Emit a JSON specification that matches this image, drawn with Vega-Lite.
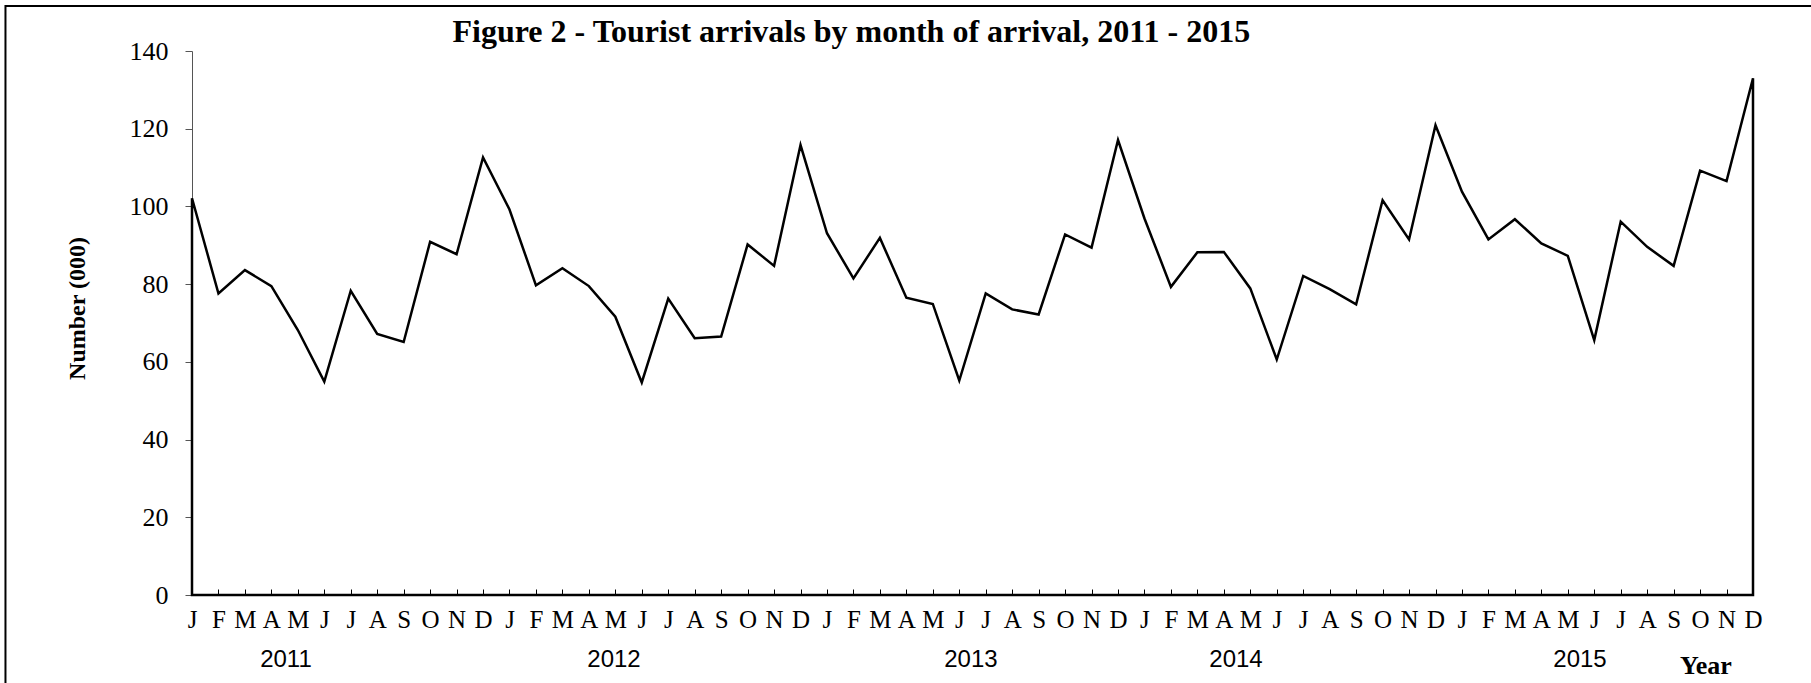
{
  "$schema": "https://vega.github.io/schema/vega-lite/v6.json",
  "width": 1561,
  "height": 544,
  "autosize": {"type": "none"},
  "padding": {"left": 192, "top": 51, "right": 58, "bottom": 88},
  "background": "white",
  "config": {"view": {"stroke": null}},
  "resolve": {"axis": {"x": "independent", "y": "independent"}},
  "datasets": {
    "arrivals": [
      {"i": 0, "year": 2011, "month": "Jan", "arrivals": 102.1},
      {"i": 1, "year": 2011, "month": "Feb", "arrivals": 77.6},
      {"i": 2, "year": 2011, "month": "Mar", "arrivals": 83.6},
      {"i": 3, "year": 2011, "month": "Apr", "arrivals": 79.5},
      {"i": 4, "year": 2011, "month": "May", "arrivals": 68.2},
      {"i": 5, "year": 2011, "month": "Jun", "arrivals": 54.9},
      {"i": 6, "year": 2011, "month": "Jul", "arrivals": 78.3},
      {"i": 7, "year": 2011, "month": "Aug", "arrivals": 67.2},
      {"i": 8, "year": 2011, "month": "Sep", "arrivals": 65.1},
      {"i": 9, "year": 2011, "month": "Oct", "arrivals": 90.9},
      {"i": 10, "year": 2011, "month": "Nov", "arrivals": 87.7},
      {"i": 11, "year": 2011, "month": "Dec", "arrivals": 112.6},
      {"i": 12, "year": 2012, "month": "Jan", "arrivals": 99.2},
      {"i": 13, "year": 2012, "month": "Feb", "arrivals": 79.7},
      {"i": 14, "year": 2012, "month": "Mar", "arrivals": 84.1},
      {"i": 15, "year": 2012, "month": "Apr", "arrivals": 79.5},
      {"i": 16, "year": 2012, "month": "May", "arrivals": 71.6},
      {"i": 17, "year": 2012, "month": "Jun", "arrivals": 54.7},
      {"i": 18, "year": 2012, "month": "Jul", "arrivals": 76.3},
      {"i": 19, "year": 2012, "month": "Aug", "arrivals": 66.1},
      {"i": 20, "year": 2012, "month": "Sep", "arrivals": 66.5},
      {"i": 21, "year": 2012, "month": "Oct", "arrivals": 90.2},
      {"i": 22, "year": 2012, "month": "Nov", "arrivals": 84.7},
      {"i": 23, "year": 2012, "month": "Dec", "arrivals": 115.8},
      {"i": 24, "year": 2013, "month": "Jan", "arrivals": 93.1},
      {"i": 25, "year": 2013, "month": "Feb", "arrivals": 81.5},
      {"i": 26, "year": 2013, "month": "Mar", "arrivals": 91.9},
      {"i": 27, "year": 2013, "month": "Apr", "arrivals": 76.5},
      {"i": 28, "year": 2013, "month": "May", "arrivals": 74.9},
      {"i": 29, "year": 2013, "month": "Jun", "arrivals": 55.2},
      {"i": 30, "year": 2013, "month": "Jul", "arrivals": 77.6},
      {"i": 31, "year": 2013, "month": "Aug", "arrivals": 73.5},
      {"i": 32, "year": 2013, "month": "Sep", "arrivals": 72.2},
      {"i": 33, "year": 2013, "month": "Oct", "arrivals": 92.8},
      {"i": 34, "year": 2013, "month": "Nov", "arrivals": 89.4},
      {"i": 35, "year": 2013, "month": "Dec", "arrivals": 117.1},
      {"i": 36, "year": 2014, "month": "Jan", "arrivals": 96.9},
      {"i": 37, "year": 2014, "month": "Feb", "arrivals": 79.3},
      {"i": 38, "year": 2014, "month": "Mar", "arrivals": 88.2},
      {"i": 39, "year": 2014, "month": "Apr", "arrivals": 88.3},
      {"i": 40, "year": 2014, "month": "May", "arrivals": 78.9},
      {"i": 41, "year": 2014, "month": "Jun", "arrivals": 60.6},
      {"i": 42, "year": 2014, "month": "Jul", "arrivals": 82.1},
      {"i": 43, "year": 2014, "month": "Aug", "arrivals": 78.7},
      {"i": 44, "year": 2014, "month": "Sep", "arrivals": 74.8},
      {"i": 45, "year": 2014, "month": "Oct", "arrivals": 101.6},
      {"i": 46, "year": 2014, "month": "Nov", "arrivals": 91.5},
      {"i": 47, "year": 2014, "month": "Dec", "arrivals": 120.9},
      {"i": 48, "year": 2015, "month": "Jan", "arrivals": 103.8},
      {"i": 49, "year": 2015, "month": "Feb", "arrivals": 91.5},
      {"i": 50, "year": 2015, "month": "Mar", "arrivals": 96.7},
      {"i": 51, "year": 2015, "month": "Apr", "arrivals": 90.5},
      {"i": 52, "year": 2015, "month": "May", "arrivals": 87.3},
      {"i": 53, "year": 2015, "month": "Jun", "arrivals": 65.6},
      {"i": 54, "year": 2015, "month": "Jul", "arrivals": 96.1},
      {"i": 55, "year": 2015, "month": "Aug", "arrivals": 89.6},
      {"i": 56, "year": 2015, "month": "Sep", "arrivals": 84.7},
      {"i": 57, "year": 2015, "month": "Oct", "arrivals": 109.2},
      {"i": 58, "year": 2015, "month": "Nov", "arrivals": 106.5},
      {"i": 59, "year": 2015, "month": "Dec", "arrivals": 133.0}
    ],
    "years": [
      {"label": "2011", "i": 3.55},
      {"label": "2012", "i": 15.95},
      {"label": "2013", "i": 29.44},
      {"label": "2014", "i": 39.46},
      {"label": "2015", "i": 52.46}
    ]
  },
  "layer": [
    {
      "data": {"name": "arrivals"},
      "mark": {"type": "area", "fill": "transparent", "stroke": "black", "strokeWidth": 2.5, "strokeJoin": "miter"},
      "encoding": {
        "x": {
          "field": "i",
          "type": "quantitative",
          "title": null,
          "scale": {"domain": [0, 59], "nice": false, "zero": false},
          "axis": {
            "values": [0,1,2,3,4,5,6,7,8,9,10,11,12,13,14,15,16,17,18,19,20,21,22,23,24,25,26,27,28,29,30,31,32,33,34,35,36,37,38,39,40,41,42,43,44,45,46,47,48,49,50,51,52,53,54,55,56,57,58,59],
            "labelExpr": "['J','F','M','A','M','J','J','A','S','O','N','D'][datum.value % 12]",
            "title": null,
            "grid": false,
            "tickSize": -6,
            "tickColor": "black",
            "tickWidth": 1,
            "domainColor": "black",
            "domainWidth": 1,
            "labelFont": "Liberation Serif",
            "labelFontSize": 25,
            "labelColor": "black",
            "labelPadding": 18,
            "labelOverlap": false,
            "labelFlush": false,
            "labelBound": false
          }
        },
        "y": {
          "field": "arrivals",
          "type": "quantitative",
          "title": "Number (000)",
          "scale": {"domain": [0, 140], "nice": false},
          "axis": {
            "values": [0, 20, 40, 60, 80, 100, 120, 140],
            "grid": false,
            "tickSize": 7,
            "tickColor": "#555555",
            "domainColor": "#555555",
            "labelFont": "Liberation Serif",
            "labelFontSize": 26,
            "labelColor": "black",
            "labelPadding": 17,
            "labelOverlap": false,
            "title": "Number (000)",
            "titleFont": "Liberation Serif",
            "titleFontSize": 24,
            "titleFontWeight": "bold",
            "titleColor": "black",
            "titleX": -115,
            "titleY": 257,
            "titleBaseline": "middle",
            "titleAngle": -90
          }
        }
      }
    },
    {
      "data": {"name": "years"},
      "mark": {"type": "text", "font": "Liberation Sans", "fontSize": 24, "baseline": "middle", "align": "center", "color": "black"},
      "encoding": {
        "x": {"field": "i", "type": "quantitative", "axis": null},
        "y": {"datum": -16.7, "type": "quantitative", "axis": null},
        "text": {"field": "label"}
      }
    },
    {
      "data": {"values": [{"label": "Year", "i": 57.22}]},
      "mark": {"type": "text", "font": "Liberation Serif", "fontSize": 26, "fontWeight": "bold", "baseline": "middle", "align": "center", "color": "black"},
      "encoding": {
        "x": {"field": "i", "type": "quantitative", "axis": null},
        "y": {"datum": -18.3, "type": "quantitative", "axis": null},
        "text": {"field": "label"}
      }
    },
    {
      "data": {"values": [{"label": "Figure 2 - Tourist arrivals by month of arrival, 2011 - 2015", "i": 24.92}]},
      "mark": {"type": "text", "font": "Liberation Serif", "fontSize": 32, "fontWeight": "bold", "baseline": "alphabetic", "align": "center", "color": "black"},
      "encoding": {
        "x": {"field": "i", "type": "quantitative", "axis": null},
        "y": {"datum": 142.3, "type": "quantitative", "axis": null},
        "text": {"field": "label"}
      }
    },
    {
      "data": {"values": [{}]},
      "mark": {"type": "rect", "fill": "transparent", "stroke": "black", "strokeWidth": 2},
      "encoding": {
        "x": {"datum": -7.05, "type": "quantitative", "axis": null},
        "x2": {"datum": 75},
        "y": {"datum": 151.6, "type": "quantitative", "axis": null},
        "y2": {"datum": -40}
      }
    }
  ]
}
